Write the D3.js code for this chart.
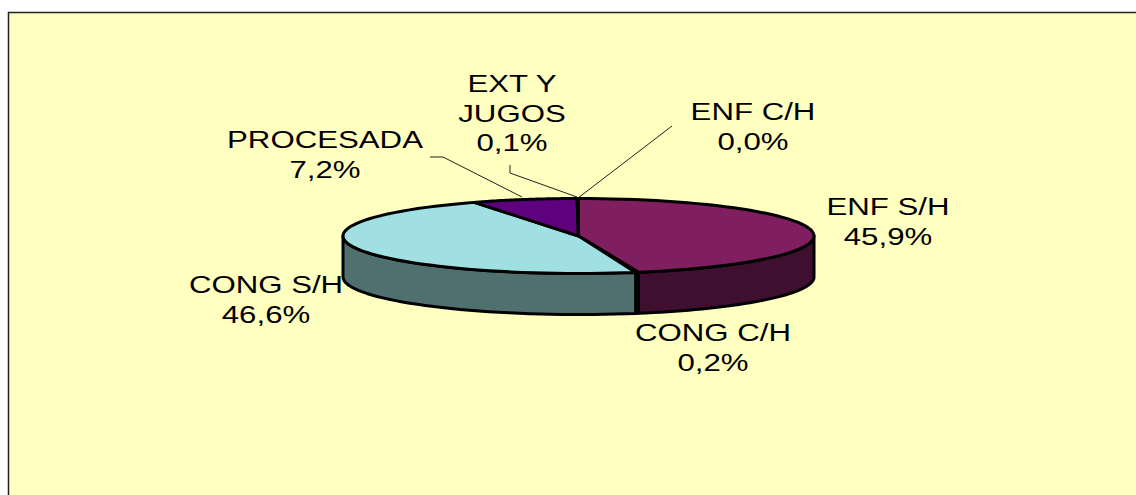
<!DOCTYPE html>
<html>
<head>
<meta charset="utf-8">
<script src="https://cdn.jsdelivr.net/npm/d3@7"></script>
<style>
  html, body { margin: 0; padding: 0; background: #fff; }
  svg { display: block; }
  text { font-family: "Liberation Sans", Arial, sans-serif; font-size: 24px; fill: #000; }
</style>
</head>
<body>
<svg id="chart" width="1136" height="495"></svg>
<script>
// clockwise from 12 o'clock
const categories = ["ENF C/H", "ENF S/H", "CONG C/H", "CONG S/H", "PROCESADA", "EXT Y JUGOS"];
const shares = [0.0, 45.9, 0.2, 46.6, 7.2, 0.1];
const valueLabels = ["0,0%", "45,9%", "0,2%", "46,6%", "7,2%", "0,1%"];
const topColors = ["#99ccff", "#7f1f5f", "#000000", "#a0e0e2", "#5f007f", "#000000"];
const sideColors = ["#4c6680", "#3f0f30", "#000000", "#507070", "#30003f", "#000000"];

const width = 1136, height = 495;
const cx = 578.5, cy = 236, rx = 235.5, ry = 37.5, depth = 41;

const svg = d3.select("#chart");

// background panel, runs off the right and bottom of the window
svg.append("rect").attr("width", width).attr("height", height).attr("fill", "#ffffff");
svg.append("rect")
  .attr("x", 8.5).attr("y", 12.5)
  .attr("width", width).attr("height", height)
  .attr("fill", "#ffffc0")
  .attr("stroke", "#222")
  .attr("stroke-width", 1.5);

const pie = d3.pie().sort(null).value(d => d);
const arcs = pie(shares);

// ellipse projection of an angle measured clockwise from the top
const px = a => cx + rx * Math.sin(a);
const py = a => cy - ry * Math.cos(a);

const line = d3.line();

// walls: only the part of each slice on the front half of the ellipse
const wallGroup = svg.append("g").attr("stroke", "#000").attr("stroke-width", 3).attr("stroke-linejoin", "round");
arcs.forEach((d, i) => {
  const a0 = Math.max(d.startAngle, Math.PI / 2);
  const a1 = Math.min(d.endAngle, Math.PI * 1.5);
  if (a1 <= a0) return;
  const angles = d3.range(0, 41).map(k => a0 + (a1 - a0) * k / 40);
  const front = angles.map(a => [px(a), py(a)]);
  const back = angles.slice().reverse().map(a => [px(a), py(a) + depth]);
  wallGroup.append("path")
    .attr("d", line(front.concat(back)) + "Z")
    .attr("fill", sideColors[i]);
});

// top face
const topGroup = svg.append("g").attr("stroke", "#000").attr("stroke-width", 3).attr("stroke-linejoin", "round");
arcs.forEach((d, i) => {
  const angles = d3.range(0, 61).map(k => d.startAngle + (d.endAngle - d.startAngle) * k / 60);
  const pts = [[cx, cy]].concat(angles.map(a => [px(a), py(a)]));
  topGroup.append("path")
    .attr("d", line(pts) + "Z")
    .attr("fill", topColors[i]);
});

// leader lines for the labels above the pie
const leaderLines = [
  [[578, 198], [672, 126]],
  [[577, 197], [510, 173], [510, 165]],
  [[522, 197], [443, 157], [430, 157]]
];
svg.append("g").selectAll("path").data(leaderLines).join("path")
  .attr("d", d => line(d))
  .attr("fill", "none")
  .attr("stroke", "#222")
  .attr("stroke-width", 1);

// label anchors: one row per category, centre x and first baseline
const labelLines = [["ENF C/H"], ["ENF S/H"], ["CONG C/H"], ["CONG S/H"], ["PROCESADA"], ["EXT Y", "JUGOS"]];
const labelX = [753, 888, 713, 266, 325, 512];
const labelY = [120, 215, 341, 293, 148, 92];
const lineStep = 29.5;
const textStretch = 1.3; // the reference text is wider than it is tall

const labels = svg.append("g").attr("text-anchor", "middle");
categories.forEach((c, i) => {
  const rows = labelLines[i].concat([valueLabels[i]]);
  rows.forEach((t, j) => {
    labels.append("text")
      .attr("transform", `translate(${labelX[i]},${labelY[i] + j * lineStep}) scale(${textStretch},1)`)
      .text(t);
  });
});
</script>
</body>
</html>
